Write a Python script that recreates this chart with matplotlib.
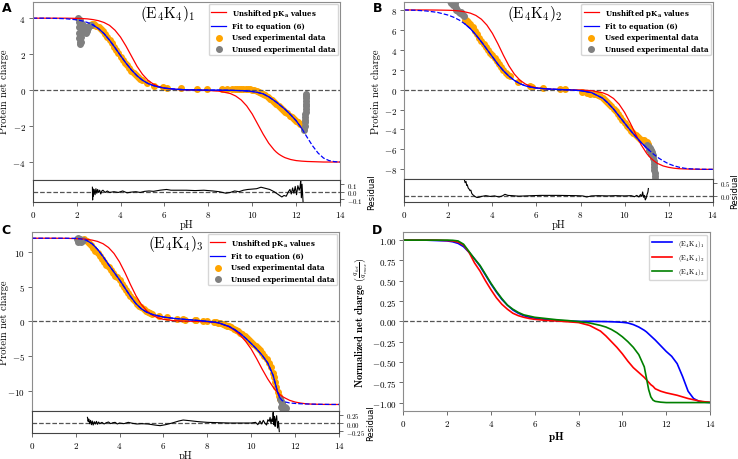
"""Protein net charge titration curves for the (E4K4)n peptides."""

import matplotlib

matplotlib.use("Agg")
import matplotlib.pyplot as plt
import numpy as np

plt.rcParams["font.family"] = "cmr10"
plt.rcParams["mathtext.fontset"] = "cm"
plt.rcParams["axes.formatter.use_mathtext"] = True

FIG_W, FIG_H = 738, 460

# common pH grid of the model curves
CURVE_PH = [0, 0.5, 1, 1.5, 2, 2.25, 2.5, 2.75, 3, 3.25, 3.5, 3.75, 4, 4.25,
            4.5, 4.75, 5, 5.25, 5.5, 5.75, 6, 6.5, 7, 7.5, 8, 8.5, 9, 9.25,
            9.5, 9.75, 10, 10.25, 10.5, 10.75, 11, 11.1, 11.2, 11.3, 11.4,
            11.5, 11.75, 12, 12.25, 12.5, 12.75, 13, 13.25, 13.5, 13.75, 14]

# ---- (E4K4)1 ----
A_UNSHIFTED = [4, 4, 4, 4, 3.99, 3.98, 3.96, 3.92, 3.86, 3.76, 3.60, 3.33, 2.95,
               2.45, 1.89, 1.33, 0.88, 0.55, 0.33, 0.2, 0.11, 0.04, 0.01, 0.0,
               -0.02, -0.06, -0.19, -0.33, -0.55, -0.88, -1.33, -1.89, -2.45,
               -2.95, -3.33, -3.45, -3.55, -3.63, -3.70, -3.76, -3.86, -3.92,
               -3.95, -3.97, -3.98, -3.99, -4, -4, -4, -4]
A_FIT = [4, 4, 3.99, 3.97, 3.91, 3.85, 3.76, 3.62, 3.42, 3.14, 2.78, 2.36, 1.92,
         1.50, 1.12, 0.80, 0.55, 0.37, 0.25, 0.17, 0.11, 0.05, 0.02, 0.01, 0.0,
         0.0, -0.01, -0.02, -0.03, -0.05, -0.08, -0.13, -0.21, -0.37, -0.58,
         -0.67, -0.77, -0.87, -0.97, -1.07, -1.37, -1.7, -2.12, -2.62, -3.1,
         -3.5, -3.78, -3.92, -3.98, -4.0]
A_FIT_RANGE = (2.7, 12.35)
A_USED_PH = [2.7, 2.75, 2.8, 2.9, 3.0, 3.1, 3.2, 3.3, 3.4, 3.5, 3.6, 3.7, 3.8,
             3.9, 4.0, 4.1, 4.2, 4.3, 4.4, 4.5, 4.6, 4.7, 4.8, 4.9, 5.0, 5.19,
             5.53, 5.95, 6.1, 6.74, 7.47, 7.93, 8.61, 8.84, 9.1, 9.2, 9.3, 9.4,
             9.5, 9.6, 9.7, 9.8, 9.9, 10.0, 10.1, 10.2, 10.3, 10.4, 10.5, 10.6,
             10.7, 10.8, 10.9, 11.0, 11.1, 11.2, 11.3, 11.4, 11.5, 11.6, 11.7,
             11.8, 11.9, 12.0, 12.1, 12.2, 12.3, 12.35]
A_USED_Q = [3.68, 3.62, 3.66, 3.58, 3.5, 3.4, 3.28, 3.14, 2.98, 2.8, 2.6, 2.42,
            2.22, 2.04, 1.86, 1.68, 1.52, 1.37, 1.23, 1.09, 0.96, 0.85, 0.74,
            0.64, 0.56, 0.41, 0.24, 0.15, 0.13, 0.09, 0.07, 0.07, 0.06, 0.06,
            0.07, 0.07, 0.08, 0.08, 0.08, 0.08, 0.07, 0.06, 0.05, 0.03, 0.0,
            -0.04, -0.1, -0.16, -0.22, -0.3, -0.38, -0.47, -0.56, -0.66, -0.76,
            -0.87, -0.98, -1.09, -1.2, -1.3, -1.42, -1.52, -1.62, -1.72, -1.8,
            -1.9, -2.0, -2.1]
A_UNUSED_PH = [2.08, 2.1, 2.1, 2.12, 2.12, 2.14, 2.16, 2.18, 2.2, 2.22, 2.25,
               2.28, 2.32, 2.36, 2.4, 2.44, 2.48, 2.52, 2.56, 2.6, 2.65, 2.15,
               2.2, 2.25, 12.38, 12.39, 12.4, 12.41, 12.42, 12.42, 12.43, 12.43,
               12.44, 12.44, 12.44, 12.45, 12.45, 12.45]
A_UNUSED_Q = [4.02, 3.8, 3.5, 3.2, 2.9, 2.7, 2.55, 2.7, 2.95, 3.2, 3.4, 3.5,
              3.55, 3.45, 3.3, 3.2, 3.3, 3.45, 3.55, 3.6, 3.62, 3.9, 3.75, 3.7,
              -2.2, -2.0, -1.8, -1.65, -1.5, -1.35, -1.2, -1.05, -0.9, -0.75,
              -0.6, -0.45, -0.32, -0.22]
A_RES_PH = [2.72, 2.73, 2.74, 2.76, 2.8, 2.84, 2.88, 2.92, 2.96, 3.0, 3.05, 3.1,
            3.15, 3.2, 3.3, 3.4, 3.5, 3.7, 3.9, 4.1, 4.3, 4.5, 4.7, 4.9, 5.1,
            5.3, 5.5, 5.8, 6.1, 6.3, 6.6, 7.0, 7.4, 7.8, 8.2, 8.5, 8.8, 9.0,
            9.2, 9.4, 9.6, 9.8, 10.0, 10.2, 10.4, 10.6, 10.8, 11.0, 11.2, 11.35,
            11.45, 11.55, 11.65, 11.72, 11.78, 11.84, 11.9, 11.96, 12.02, 12.08,
            12.14, 12.18, 12.21, 12.24, 12.27, 12.3, 12.33]
A_RES = [0.06, -0.11, 0.04, -0.06, 0.03, -0.04, 0.04, -0.02, 0.03, -0.01, 0.02,
         -0.03, 0.01, 0.02, -0.01, 0.01, -0.01, 0.0, -0.01, 0.01, -0.015,
         -0.005, 0.0, -0.01, 0.005, 0.01, 0.005, 0.02, 0.03, 0.02, 0.02, 0.02,
         0.015, 0.02, 0.01, 0.0, -0.02, -0.01, 0.01, 0.0, 0.02, 0.03, 0.035,
         0.04, 0.06, 0.045, 0.03, 0.0, -0.04, -0.07, -0.05, -0.06, 0.0, 0.03,
         -0.03, 0.05, -0.02, 0.07, -0.04, 0.08, 0.02, 0.06, 0.15, -0.08, 0.1,
         -0.05, -0.2]

# ---- (E4K4)2 ----
B_UNSHIFTED = [8, 8, 8, 7.99, 7.97, 7.95, 7.90, 7.81, 7.68, 7.45, 7.07, 6.48,
               5.65, 4.60, 3.45, 2.39, 1.55, 0.95, 0.56, 0.33, 0.19, 0.06, 0.02,
               -0.01, -0.03, -0.10, -0.31, -0.53, -0.89, -1.46, -2.28, -3.32,
               -4.46, -5.53, -6.39, -6.66, -6.89, -7.09, -7.26, -7.41, -7.66,
               -7.80, -7.89, -7.94, -7.96, -7.98, -7.99, -8, -8, -8]
B_FIT = [8.0, 7.97, 7.9, 7.76, 7.48, 7.26, 6.98, 6.6, 6.12, 5.5, 4.8, 4.05, 3.3,
         2.55, 1.9, 1.35, 0.92, 0.6, 0.38, 0.25, 0.16, 0.07, 0.02, -0.02, -0.1,
         -0.3, -0.85, -1.35, -1.95, -2.65, -3.35, -4.05, -4.7, -5.3, -5.85,
         -6.05, -6.25, -6.45, -6.62, -6.8, -7.15, -7.45, -7.65, -7.8, -7.9,
         -7.95, -7.97, -7.99, -8.0, -8.0]
B_FIT_RANGE = (2.7, 11.15)
B_USED_PH = [2.75, 2.8, 2.85, 2.9, 3.0, 3.1, 3.2, 3.3, 3.4, 3.5, 3.6, 3.7, 3.8,
             3.9, 4.0, 4.1, 4.2, 4.3, 4.4, 4.5, 4.6, 4.7, 4.8, 5.17, 5.7, 5.78,
             6.31, 7.07, 7.3, 8.05, 8.28, 8.43, 8.6, 8.7, 8.8, 8.9, 9.0, 9.1,
             9.2, 9.3, 9.4, 9.5, 9.6, 9.7, 9.8, 9.9, 10.0, 10.1, 10.2, 10.3,
             10.4, 10.5, 10.6, 10.7, 10.8, 10.9, 11.0, 11.05]
B_USED_Q = [7.0, 6.95, 6.85, 6.75, 6.55, 6.25, 5.9, 5.55, 5.2, 4.9, 4.6, 4.3,
            4.0, 3.72, 3.45, 3.15, 2.85, 2.55, 2.25, 1.95, 1.7, 1.45, 1.4, 0.73,
            0.33, 0.23, 0.17, 0.05, 0.05, -0.27, -0.37, -0.43, -0.4, -0.48,
            -0.56, -0.68, -0.82, -1.0, -1.2, -1.42, -1.66, -1.9, -2.18, -2.46,
            -2.76, -3.05, -3.32, -3.6, -3.88, -4.12, -4.38, -4.6, -4.8, -4.95,
            -5.02, -5.1, -5.3, -5.45]
B_UNUSED_PH = [2.08, 2.12, 2.15, 2.2, 2.22, 2.25, 2.28, 2.3, 2.3, 2.33, 2.36,
               2.4, 2.44, 2.48, 2.52, 2.56, 2.6, 2.65, 2.7, 2.18, 11.0, 11.05,
               11.1, 11.1, 11.15, 11.2, 11.2, 11.25, 11.28, 11.3, 11.32, 11.33,
               11.34, 11.35, 11.36, 11.37, 11.38]
B_UNUSED_Q = [8.9, 8.7, 9.0, 8.8, 8.5, 8.6, 8.9, 8.4, 8.7, 8.2, 8.0, 7.95, 7.85,
              7.75, 7.7, 7.8, 7.6, 7.5, 7.4, 9.0, -5.55, -5.7, -5.8, -6.1, -5.9,
              -6.1, -6.5, -6.3, -6.6, -6.9, -7.2, -7.5, -7.8, -8.1, -8.4, -8.7,
              -9.0]
B_RES_PH = [2.73, 2.76, 2.8, 2.83, 2.86, 2.9, 2.95, 2.98, 3.02, 3.06, 3.1, 3.15,
            3.2, 3.3, 3.4, 3.5, 3.7, 3.9, 4.1, 4.3, 4.45, 4.57, 4.7, 4.9, 5.2,
            5.5, 5.8, 6.2, 6.6, 7.0, 7.4, 7.8, 8.1, 8.28, 8.5, 8.8, 9.2, 9.6,
            10.0, 10.3, 10.45, 10.55, 10.65, 10.72, 10.78, 10.82, 10.86, 10.9,
            10.94, 10.98, 11.02, 11.06, 11.08]
B_RES = [0.6, 0.5, 0.55, 0.4, 0.42, 0.3, 0.25, 0.2, 0.22, 0.1, 0.05, 0.02,
         -0.02, -0.06, -0.05, -0.02, 0.01, -0.02, 0.0, -0.04, 0.0, 0.06, 0.02,
         0.01, -0.01, 0.0, 0.01, 0.02, 0.02, 0.02, 0.015, 0.01, 0.0, -0.04, 0.0,
         0.01, 0.0, 0.01, 0.0, 0.01, -0.03, 0.02, -0.04, 0.05, -0.02, 0.15,
         -0.05, 0.02, -0.15, -0.08, 0.05, 0.15, 0.28]

# ---- (E4K4)3 ----
C_UNSHIFTED = [12, 12, 12, 11.99, 11.95, 11.92, 11.85, 11.73, 11.54, 11.21,
               10.66, 9.80, 8.58, 7.03, 5.31, 3.70, 2.41, 1.49, 0.88, 0.51,
               0.29, 0.09, 0.03, 0.0, -0.05, -0.2, -0.8, -1.3, -2.0, -2.9, -4.0,
               -5.4, -6.9, -8.3, -9.5, -9.9, -10.25, -10.55, -10.8, -11.0,
               -11.4, -11.65, -11.8, -11.9, -11.95, -11.97, -11.99, -12, -12,
               -12]
C_FIT = [12, 12, 12, 12, 11.98, 11.9, 11.7, 11.2, 10.4, 9.35, 8.2, 7.1, 6.0,
         4.8, 3.6, 2.55, 1.8, 1.3, 1.0, 0.8, 0.62, 0.42, 0.28, 0.15, 0.0, -0.2,
         -0.75, -1.2, -1.75, -2.45, -3.2, -4.0, -4.9, -6.0, -7.8, -9.0, -10.2,
         -11.0, -11.4, -11.6, -11.78, -11.85, -11.9, -11.93, -11.95, -11.97,
         -11.98, -11.99, -12, -12]
C_FIT_RANGE = (2.45, 11.35)
C_USED_PH = [2.4, 2.5, 2.6, 2.7, 2.8, 2.9, 3.0, 3.1, 3.2, 3.3, 3.4, 3.5, 3.6,
             3.7, 3.8, 3.9, 4.0, 4.1, 4.2, 4.3, 4.4, 4.5, 4.6, 4.7, 4.8, 4.9,
             5.0, 5.1, 5.2, 5.3, 5.4, 5.5, 5.8, 6.15, 6.6, 6.9, 7.0, 7.44, 7.5,
             7.82, 7.97, 8.3, 8.4, 8.5, 8.6, 8.7, 8.8, 8.9, 9.0, 9.1, 9.2, 9.3,
             9.4, 9.5, 9.6, 9.7, 9.8, 9.9, 10.0, 10.1, 10.2, 10.3, 10.4, 10.5,
             10.6, 10.7, 10.8, 10.9, 11.0, 11.05, 11.1, 11.15, 11.2, 11.25, 11.3]
C_USED_Q = [11.85, 11.6, 11.3, 11.0, 10.6, 10.2, 9.8, 9.4, 9.0, 8.6, 8.2, 7.8,
            7.4, 7.0, 6.6, 6.45, 5.9, 5.4, 4.95, 4.5, 4.05, 3.65, 3.25, 2.9,
            2.55, 2.25, 2.0, 1.75, 1.55, 1.38, 1.22, 1.1, 0.8, 0.6, 0.4, 0.3,
            0.25, 0.15, 0.15, 0.1, 0.08, -0.1, -0.15, -0.2, -0.28, -0.38, -0.5,
            -0.62, -0.74, -0.88, -1.04, -1.22, -1.42, -1.62, -1.86, -2.1, -2.38,
            -2.66, -2.95, -3.25, -3.55, -3.85, -4.2, -4.55, -4.95, -5.4, -5.95,
            -6.6, -7.4, -8.0, -8.7, -9.5, -10.2, -10.8, -11.2]
C_UNUSED_PH = [2.05, 2.1, 2.15, 2.2, 2.25, 2.3, 2.2, 2.12, 2.28, 2.35, 11.3,
               11.35, 11.4, 11.42, 11.45, 11.48, 11.5, 11.55, 11.38, 11.44,
               11.52, 11.58]
C_UNUSED_Q = [11.9, 12.0, 11.8, 11.6, 11.5, 11.6, 11.9, 11.5, 11.8, 11.75,
              -11.2, -11.5, -11.8, -12.1, -12.4, -12.6, -12.9, -12.7, -12.3,
              -12.8, -12.3, -12.5]
C_RES_PH = [2.54, 2.57, 2.6, 2.64, 2.68, 2.72, 2.76, 2.8, 2.85, 2.9, 2.95, 3.0,
            3.05, 3.1, 3.2, 3.3, 3.4, 3.5, 3.6, 3.7, 3.8, 3.9, 4.0, 4.2, 4.4,
            4.6, 4.8, 5.0, 5.3, 5.6, 5.85, 6.1, 6.4, 6.7, 6.9, 7.2, 7.6, 8.0,
            8.5, 9.0, 9.5, 10.0, 10.2, 10.3, 10.4, 10.48, 10.55, 10.62, 10.7,
            10.76, 10.82, 10.86, 10.9, 10.94, 10.98, 11.0, 11.03, 11.06, 11.09,
            11.12, 11.16, 11.2, 11.24, 11.28]
C_RES = [0.17, 0.05, 0.12, -0.02, 0.08, -0.05, 0.06, -0.06, 0.04, -0.03, 0.05,
         -0.04, 0.03, -0.02, 0.02, -0.03, 0.01, 0.03, -0.02, 0.01, 0.02, -0.03,
         0.0, -0.02, 0.02, -0.01, -0.03, -0.02, -0.03, -0.06, -0.08, -0.05, 0.0,
         0.06, 0.09, 0.07, 0.04, 0.02, 0.01, 0.0, 0.0, 0.0, 0.02, -0.05, 0.06,
         -0.03, 0.08, 0.0, -0.06, 0.1, 0.05, 0.17, -0.02, 0.12, 0.05, 0.32,
         -0.05, 0.2, -0.1, 0.1, 0.22, -0.15, 0.05, -0.26]

# ---- normalized fits ----
D_NORM_1 = [1, 1, 1, 0.995, 0.99, 0.98, 0.96, 0.92, 0.85, 0.77, 0.68, 0.57,
            0.46, 0.36, 0.27, 0.2, 0.14, 0.1, 0.07, 0.05, 0.04, 0.02, 0.01,
            0.005, 0.0, 0.0, -0.002, -0.003, -0.005, -0.008, -0.012, -0.02,
            -0.04, -0.07, -0.11, -0.13, -0.155, -0.18, -0.205, -0.23, -0.3,
            -0.37, -0.43, -0.52, -0.68, -0.86, -0.95, -0.985, -0.995, -1.0]
D_NORM_2 = [1, 1, 1, 1.0, 0.995, 0.99, 0.975, 0.94, 0.85, 0.72, 0.62, 0.5, 0.39,
            0.29, 0.21, 0.15, 0.1, 0.07, 0.05, 0.035, 0.025, 0.012, 0.005,
            -0.005, -0.015, -0.05, -0.12, -0.18, -0.25, -0.32, -0.4, -0.49,
            -0.57, -0.63, -0.69, -0.72, -0.75, -0.78, -0.8, -0.83, -0.86, -0.88,
            -0.895, -0.91, -0.93, -0.95, -0.965, -0.98, -0.99, -0.995]
D_NORM_3 = [1, 1, 1, 1, 1.0, 0.998, 0.99, 0.95, 0.86, 0.77, 0.69, 0.58, 0.47,
            0.37, 0.28, 0.2, 0.15, 0.11, 0.08, 0.065, 0.05, 0.035, 0.02, 0.01,
            -0.003, -0.02, -0.05, -0.07, -0.1, -0.14, -0.19, -0.25, -0.32,
            -0.41, -0.56, -0.7, -0.84, -0.93, -0.97, -0.985, -0.995, -1.0, -1.0,
            -1.0, -1.0, -1.0, -1.0, -1.0, -1.0, -1.0]

PEPTIDES = ["(E$_4$K$_4$)$_1$", "(E$_4$K$_4$)$_2$", "(E$_4$K$_4$)$_3$"]
LEGEND_FONT = {"family": "DejaVu Serif", "weight": "bold", "size": 5.0}
SPINE_GRAY = "#8c8c8c"


def _px_axes(fig, left, top, right, bottom):
    """Add axes from a pixel box (origin top-left)."""
    return fig.add_axes([left / FIG_W, 1 - bottom / FIG_H,
                         (right - left) / FIG_W, (bottom - top) / FIG_H])


def _style(ax, color=SPINE_GRAY, size=6.5):
    for spine in ax.spines.values():
        spine.set_color(color)
    ax.tick_params(labelsize=size, length=3, width=0.6, pad=2, color="#555555")


def plot_titration(fig, box, title, title_x, unshifted, fit, fit_range,
                   used, unused, residual, ylim, res_ylim, res_ticks):
    """Net charge panel with fit residual strip underneath."""
    left, top, right, split, bottom = box
    width = right - left
    ax = _px_axes(fig, left, top, right, split)
    ax_res = _px_axes(fig, left, split, right, bottom)

    ph = np.array(CURVE_PH)
    fit = np.array(fit)
    solid = (ph >= fit_range[0]) & (ph <= fit_range[1])

    ax.axhline(0, color="#555555", ls="--", lw=0.9)
    ax.scatter(*used, s=16, color="orange", label="Used experimental data")
    ax.scatter(*unused, s=16, color="gray", label="Unused experimental data")
    ax.plot(ph, unshifted, color="red", lw=0.9, label="Unshifted pK$_\\mathregular{a}$ values")
    ax.plot(ph, fit, color="blue", lw=0.9, ls="--")
    ax.plot(ph[solid], fit[solid], color="blue", lw=0.9, label="Fit to equation (6)")

    ax.set_xlim(0, 14)
    ax.set_ylim(*ylim)
    ax.set_ylabel("Protein net charge", fontsize=7.5)
    # label centre about 9 px from the panel's left edge
    label_px = 9 if left < 100 else left - 23
    ax.yaxis.set_label_coords((label_px - left) / width, 0.5)
    ax.text(title_x, 0.995, title, transform=ax.transAxes, fontsize=11,
            ha="left", va="top")
    handles, labels = ax.get_legend_handles_labels()
    order = [2, 3, 0, 1]
    ax.legend([handles[i] for i in order], [labels[i] for i in order],
              loc="upper right", prop=LEGEND_FONT, scatterpoints=1,
              borderaxespad=0.3, handlelength=2.2, labelspacing=0.5,
              borderpad=0.35)
    _style(ax)
    ax.tick_params(labelbottom=False, bottom=False)

    ax_res.axhline(0, color="#555555", ls="--", lw=0.9)
    ax_res.plot(*residual, color="black", lw=0.8)
    ax_res.set_xlim(0, 14)
    ax_res.set_ylim(*res_ylim)
    ax_res.set_yticks(res_ticks)
    ax_res.yaxis.tick_right()
    ax_res.yaxis.set_label_position("right")
    ax_res.set_ylabel("Residual", fontsize=6, family="DejaVu Sans")
    res_label_px = min(right + 27, FIG_W - 8)
    ax_res.yaxis.set_label_coords((res_label_px - left) / width, 0.5)
    ax_res.set_xlabel("pH", fontsize=7.5, labelpad=0)
    _style(ax_res, "#444444", 5)
    ax_res.tick_params(axis="x", labelsize=6.5)
    return ax, ax_res


def plot_normalized(fig, box):
    """Normalized fits of the three peptides."""
    ax = _px_axes(fig, *box)
    ph = CURVE_PH
    ax.axhline(0, color="#555555", ls="--", lw=0.9)
    for values, color, name in zip([D_NORM_1, D_NORM_2, D_NORM_3],
                                   ["blue", "red", "green"], PEPTIDES):
        ax.plot(ph, values, color=color, lw=1.2, label=name)
    ax.set_xlim(0, 14)
    ax.set_ylim(-1.1, 1.1)
    ax.set_yticks([-1, -0.75, -0.5, -0.25, 0, 0.25, 0.5, 0.75, 1])
    ax.yaxis.set_major_formatter(plt.FormatStrFormatter("$%.2f$"))
    ax.set_xlabel("$\\mathbf{pH}$", fontsize=8, labelpad=1)
    ax.set_ylabel("$\\mathbf{Normalized\\ net\\ charge}$ "
                  "$(\\frac{q_{tot}}{q_{max}})$", fontsize=7.5, labelpad=1)
    ax.legend(loc="upper right", fontsize=5, handlelength=3,
              borderaxespad=0.4)
    _style(ax)
    return ax


def plot_figure(path_plot):
    fig = plt.figure(figsize=(FIG_W / 100, FIG_H / 100), dpi=100)

    plot_titration(fig, (32.7, 3, 340, 181, 203), "$\\mathrm{(E_4K_4)_1}$", 0.35,
                   A_UNSHIFTED, A_FIT, A_FIT_RANGE, (A_USED_PH, A_USED_Q),
                   (A_UNUSED_PH, A_UNUSED_Q), (A_RES_PH, A_RES),
                   (-5.0, 4.9), (-0.137, 0.156), [-0.1, 0.0, 0.1])
    plot_titration(fig, (404.3, 3, 712.7, 180, 203), "$\\mathrm{(E_4K_4)_2}$", 0.333,
                   B_UNSHIFTED, B_FIT, B_FIT_RANGE, (B_USED_PH, B_USED_Q),
                   (B_UNUSED_PH, B_UNUSED_Q), (B_RES_PH, B_RES),
                   (-8.97, 8.8), (-0.23, 0.64), [0.0, 0.5])
    plot_titration(fig, (31.7, 233, 339, 411.7, 434), "$\\mathrm{(E_4K_4)_3}$", 0.378,
                   C_UNSHIFTED, C_FIT, C_FIT_RANGE, (C_USED_PH, C_USED_Q),
                   (C_UNUSED_PH, C_UNUSED_Q), (C_RES_PH, C_RES),
                   (-12.9, 12.9), (-0.30, 0.37), [-0.25, 0.0, 0.25])
    plot_normalized(fig, (403.3, 233, 710, 411.7))

    for letter, x, y in [("A", 2, 2), ("B", 373, 2), ("C", 1, 224), ("D", 372, 224)]:
        fig.text(x / FIG_W, 1 - y / FIG_H, letter, family="DejaVu Sans",
                 weight="bold", fontsize=9, ha="left", va="top")

    fig.savefig(path_plot, dpi=100)


if __name__ == "__main__":
    plot_figure("out.png")
